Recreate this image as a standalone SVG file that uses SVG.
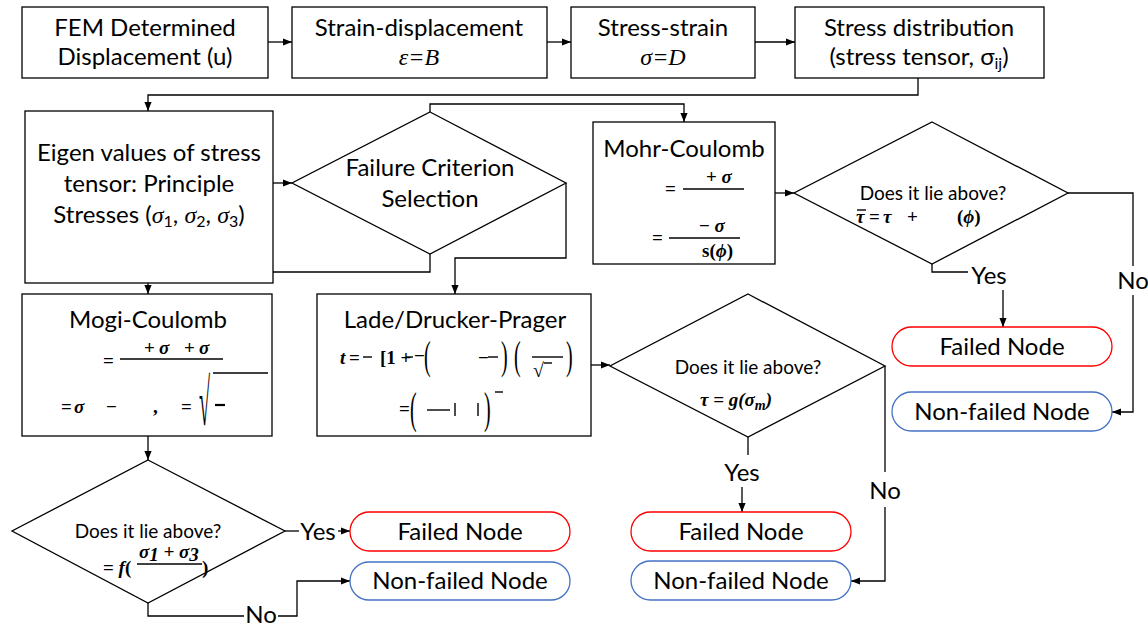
<svg xmlns="http://www.w3.org/2000/svg" width="1148" height="623" viewBox="0 0 1148 623">
<defs>
<style>
.box{fill:#fff;stroke:#000;stroke-width:1.3}
.fail{fill:#fff;stroke:#ff0000;stroke-width:1.3}
.ok{fill:#fff;stroke:#4472c4;stroke-width:1.3}
.t{font-family:Lato,"Liberation Sans",sans-serif;font-size:24px;fill:#000;text-anchor:middle}
.q{font-family:Lato,"Liberation Sans",sans-serif;font-size:19px;fill:#000;text-anchor:middle}
.m{font-family:"Liberation Serif","DejaVu Serif",serif;font-size:19px;font-weight:bold;font-style:italic;fill:#000}
.mr{font-family:"Liberation Serif","DejaVu Serif",serif;font-size:19px;font-weight:bold;fill:#000}
.mi{font-family:"Liberation Serif","DejaVu Serif",serif;font-style:italic}
.pp{font-family:"Liberation Serif","DejaVu Serif",serif;font-size:20px;fill:#000}
.bar{stroke:#000;stroke-width:1.4}
.conn{fill:none;stroke:#000;stroke-width:1.3}
</style>
<marker id="arr" viewBox="0 0 10 10" refX="10" refY="5" markerWidth="9" markerHeight="9" markerUnits="userSpaceOnUse" orient="auto">
<path d="M0,1 L10,5 L0,9 z" fill="#000"/>
</marker>
</defs>

<!-- connectors -->
<g id="connectors" class="conn">
<path d="M268,42 H292" marker-end="url(#arr)"/>
<path d="M547,42 H571" marker-end="url(#arr)"/>
<path d="M755,42 H795" marker-end="url(#arr)"/>
<path d="M918,78 V95 H148 V111" marker-end="url(#arr)"/>
<path d="M273,183 H292" marker-end="url(#arr)"/>
<path d="M430,112 V104 H684 V122" marker-end="url(#arr)"/>
<path d="M430,254 V272 H148 V294" marker-end="url(#arr)"/>
<path d="M566,183 V258 H455 V294" marker-end="url(#arr)"/>
<path d="M775,193 H794" marker-end="url(#arr)"/>
<path d="M932,264 V272 H968"/>
<path d="M1003,290 V327" marker-end="url(#arr)"/>
<path d="M1068,193 H1133 V266"/>
<path d="M1133,295 V412 H1112" marker-end="url(#arr)"/>
<path d="M148,436 V460" marker-end="url(#arr)"/>
<path d="M285,531 H299"/>
<path d="M338,531 H350" marker-end="url(#arr)"/>
<path d="M148,603 V616 H244"/>
<path d="M278,616 H297 V581 H350" marker-end="url(#arr)"/>
<path d="M591,365 H610" marker-end="url(#arr)"/>
<path d="M748,437 V455"/>
<path d="M742,487 V512" marker-end="url(#arr)"/>
<path d="M885,366 V472"/>
<path d="M885,507 V581 H851" marker-end="url(#arr)"/>
</g>

<!-- branch labels -->
<g id="labels" class="t">
<text x="989" y="284">Yes</text>
<text x="1133" y="289">No</text>
<text x="318" y="540">Yes</text>
<text x="261" y="623">No</text>
<text x="742" y="481">Yes</text>
<text x="885" y="499">No</text>
</g>

<g id="fem">
<rect class="box" x="22" y="7" width="246" height="71"/>
<text class="t" x="145" y="36">FEM Determined</text>
<text class="t" x="145" y="65">Displacement (u)</text>
</g>

<g id="strain">
<rect class="box" x="292" y="7" width="255" height="71"/>
<text class="t" x="419" y="36">Strain-displacement</text>
<text class="t mi" x="419" y="65">ε=B</text>
</g>

<g id="stressstrain">
<rect class="box" x="571" y="7" width="184" height="71"/>
<text class="t" x="663" y="36">Stress-strain</text>
<text class="t mi" x="663" y="65">σ=D</text>
</g>

<g id="stressdist">
<rect class="box" x="795" y="7" width="249" height="71"/>
<text class="t" x="919" y="36">Stress distribution</text>
<text class="t" x="919" y="65">(stress tensor, σ<tspan font-size="16" dy="4">ij</tspan><tspan dy="-4">)</tspan></text>
</g>

<g id="eigen">
<rect class="box" x="25" y="111" width="248" height="172"/>
<text class="t" x="149" y="161">Eigen values of stress</text>
<text class="t" x="149" y="192">tensor: Principle</text>
<text class="t" x="149" y="223">Stresses (<tspan class="mi">σ</tspan><tspan font-size="16" dy="4">1</tspan><tspan dy="-4">, </tspan><tspan class="mi">σ</tspan><tspan font-size="16" dy="4">2</tspan><tspan dy="-4">, </tspan><tspan class="mi">σ</tspan><tspan font-size="16" dy="4">3</tspan><tspan dy="-4">)</tspan></text>
</g>

<g id="criterion">
<polygon class="box" points="430,112 566,183 430,254 292,183"/>
<text class="t" x="430" y="176">Failure Criterion</text>
<text class="t" x="430" y="207">Selection</text>
</g>

<g id="mohr">
<rect class="box" x="593" y="122" width="182" height="142"/>
<text class="t" x="684" y="157">Mohr-Coulomb</text>
<text class="mr" x="665" y="195">=</text>
<line class="bar" x1="683" y1="189" x2="744" y2="189"/>
<text class="mr" x="706" y="183">+ <tspan class="m">σ</tspan></text>
<text class="mr" x="652" y="244">=</text>
<line class="bar" x1="669" y1="238" x2="740" y2="238"/>
<text class="mr" x="699" y="232">− <tspan class="m">σ</tspan></text>
<text class="mr" x="702" y="257">s(<tspan class="m">ϕ</tspan>)</text>
</g>

<g id="mohr-check">
<polygon class="box" points="932,122 1068,193 932,264 794,193"/>
<text class="q" x="933" y="200">Does it lie above?</text>
<line class="bar" x1="857" y1="210" x2="866" y2="210"/>
<text class="m" x="856" y="223">τ</text>
<text class="mr" x="869" y="223">=</text>
<text class="m" x="883" y="223">τ</text>
<text class="mr" x="907" y="223">+</text>
<text class="mr" x="957" y="223">(<tspan class="m">ϕ</tspan>)</text>
</g>

<g id="mohr-failed">
<rect class="fail" x="892" y="327" width="220" height="39" rx="19.5"/>
<text class="t" x="1002" y="355">Failed Node</text>
</g>
<g id="mohr-safe">
<rect class="ok" x="892" y="392" width="220" height="39" rx="19.5"/>
<text class="t" x="1002" y="420">Non-failed Node</text>
</g>

<g id="mogi">
<rect class="box" x="22" y="294" width="250" height="142"/>
<text class="t" x="148" y="328">Mogi-Coulomb</text>
<text class="mr" x="103" y="367">=</text>
<line class="bar" x1="120" y1="359" x2="223" y2="359"/>
<text class="mr" x="144" y="354">+</text>
<text class="m" x="159" y="354">σ</text>
<text class="mr" x="184" y="354">+</text>
<text class="m" x="199" y="354">σ</text>
<text class="mr" x="61" y="413">=</text>
<text class="m" x="74" y="413">σ</text>
<text class="mr" x="106" y="413">−</text>
<text class="mr" x="153" y="413">,</text>
<text class="mr" x="181" y="413">=</text>
<text class="pp" transform="translate(199,425) scale(1,3.3)" font-size="24">√</text>
<line class="bar" x1="213" y1="373" x2="268" y2="373"/>
<line x1="215" y1="405" x2="225" y2="405" stroke="#000" stroke-width="2.2"/>
</g>

<g id="mogi-check">
<polygon class="box" points="148,460 285,531 148,603 12,531"/>
<text class="q" x="148" y="538">Does it lie above?</text>
<text class="mr" x="103" y="574">= <tspan class="m">f</tspan>(</text>
<text class="m" x="139" y="558">σ<tspan class="mr" font-size="14" dy="3">1</tspan><tspan class="mr" dy="-3"> + </tspan>σ<tspan class="mr" font-size="14" dy="3">3</tspan></text>
<line class="bar" x1="137" y1="564" x2="202" y2="564"/>
<text class="mr" x="202" y="574">)</text>
</g>

<g id="mogi-failed">
<rect class="fail" x="350" y="512" width="220" height="39" rx="19.5"/>
<text class="t" x="460" y="540">Failed Node</text>
</g>
<g id="mogi-safe">
<rect class="ok" x="350" y="562" width="220" height="38" rx="19"/>
<text class="t" x="460" y="589">Non-failed Node</text>
</g>

<g id="lade">
<rect class="box" x="317" y="294" width="274" height="142"/>
<text class="t" x="455" y="328">Lade/Drucker-Prager</text>
<text class="m" x="340" y="364">t</text>
<text class="mr" x="349" y="364">=</text>
<line class="bar" x1="363" y1="357" x2="372" y2="357"/>
<text class="mr" x="380" y="364">[1 +</text>
<line class="bar" x1="406" y1="357" x2="413" y2="357"/>
<text class="mr" x="414" y="362" font-size="13">−</text>
<text class="pp" transform="translate(424,369) scale(1,1.95)">(</text>
<text class="mr" x="478" y="364">−</text>
<line class="bar" x1="488" y1="357" x2="498" y2="357"/>
<text class="pp" transform="translate(501,369) scale(1,1.95)">)</text>
<text class="pp" transform="translate(514,369) scale(1,1.95)">(</text>
<line class="bar" x1="532" y1="357" x2="563" y2="357"/>
<text class="pp" x="533" y="377" font-size="16">√</text>
<line class="bar" x1="544" y1="363" x2="552" y2="363"/>
<text class="pp" transform="translate(566,369) scale(1,1.95)">)</text>
<text class="mr" x="399" y="415">=</text>
<text class="pp" transform="translate(410,423) scale(1,2.2)">(</text>
<line class="bar" x1="427" y1="410" x2="450" y2="410"/>
<line class="bar" x1="455" y1="403" x2="455" y2="416"/>
<line class="bar" x1="478" y1="403" x2="478" y2="416"/>
<text class="pp" transform="translate(484,423) scale(1,2.2)">)</text>
<line class="bar" x1="495" y1="392" x2="503" y2="392"/>
</g>

<g id="lade-check">
<polygon class="box" points="748,294 885,366 748,437 610,366"/>
<text class="q" x="748" y="374">Does it lie above?</text>
<text class="m" x="700" y="406">τ <tspan class="mr">=</tspan> g(σ<tspan font-size="14" dy="4">m</tspan><tspan class="mr" dy="-4">)</tspan></text>
</g>

<g id="lade-failed">
<rect class="fail" x="631" y="512" width="220" height="39" rx="19.5"/>
<text class="t" x="741" y="540">Failed Node</text>
</g>
<g id="lade-safe">
<rect class="ok" x="631" y="561" width="220" height="39" rx="19.5"/>
<text class="t" x="741" y="589">Non-failed Node</text>
</g>
</svg>
